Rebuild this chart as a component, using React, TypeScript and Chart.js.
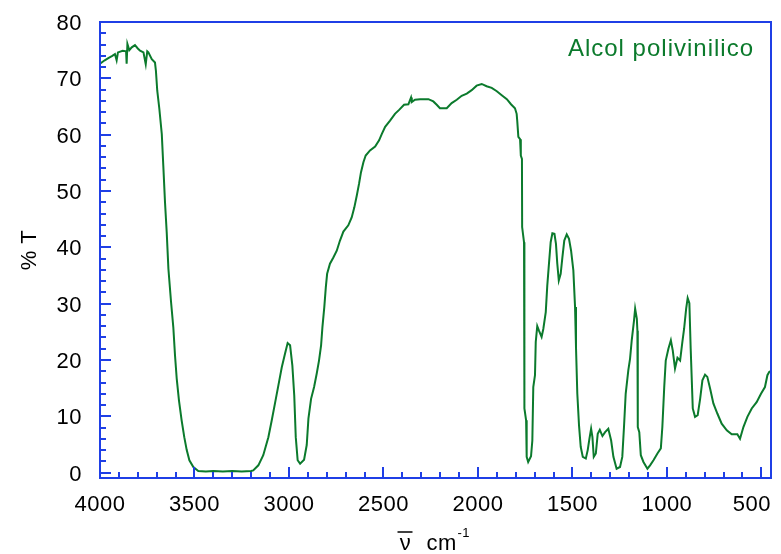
import { useEffect, useRef } from "react";
import { Chart, registerables } from "chart.js";

Chart.register(...registerables);

// Wavenumber (cm-1) and transmittance (%T)
const wavenumbers = [
  4000, 3975, 3956, 3935, 3921, 3912, 3905, 3880, 3862, 3859, 3855, 3845, 3832, 3815, 3800, 3788, 3770, 3758, 3750, 3744,
  3726, 3709, 3704, 3697, 3686, 3673, 3665, 3656, 3647, 3638, 3624, 3612, 3603, 3594, 3582, 3568, 3554, 3541, 3527, 3506,
  3480, 3440, 3400, 3350, 3300, 3250, 3200, 3189, 3162, 3136, 3109, 3091, 3074, 3056, 3038, 3021, 3007, 2994, 2982, 2972,
  2964, 2954, 2941, 2920, 2906, 2897, 2883, 2867, 2853, 2841, 2830, 2823, 2813, 2805, 2798, 2783, 2765, 2747, 2730, 2712,
  2686, 2668, 2654, 2641, 2629, 2619, 2606, 2594, 2571, 2544, 2523, 2509, 2491, 2465, 2439, 2417, 2391, 2368, 2354, 2350,
  2333, 2306, 2262, 2236, 2218, 2201, 2165, 2139, 2112, 2086, 2059, 2033, 2007, 1980, 1954, 1927, 1900, 1874, 1847, 1825,
  1804, 1795, 1792, 1786, 1777, 1773, 1767, 1766, 1756, 1754, 1745, 1742, 1734, 1719, 1712, 1707, 1698, 1694, 1686, 1677,
  1663, 1654, 1641, 1633, 1624, 1615, 1606, 1595, 1587, 1580, 1572, 1562, 1553, 1543, 1530, 1518, 1507, 1495, 1486, 1481,
  1474, 1465, 1456, 1445, 1429, 1419, 1410, 1401, 1394, 1387, 1376, 1366, 1355, 1341, 1327, 1310, 1295, 1283, 1266, 1248,
  1236, 1227, 1218, 1204, 1195, 1186, 1174, 1168, 1159, 1156, 1154, 1146, 1138, 1124, 1103, 1089, 1071, 1050, 1032, 1024,
  1014, 1006, 992, 979, 969, 957, 944, 930, 918, 909, 898, 890, 881, 874, 863, 851, 837, 824, 812, 798,
  786, 771, 754, 733, 710, 683, 657, 627, 613, 595, 574, 551, 525, 502, 481, 468, 458, 449,
];

const transmittance = [
  72.6, 73.2, 73.6, 74.0, 74.3, 73.2, 74.6, 74.9, 74.8, 72.6, 76.1, 75.0, 75.5, 75.9, 75.3, 74.9, 74.6, 72.5, 74.8, 74.6,
  73.4, 72.8, 71.3, 67.8, 64.6, 60.1, 54.5, 48.0, 42.7, 36.2, 30.3, 25.8, 20.8, 16.7, 12.8, 9.3, 6.3, 4.0, 2.2, 1.0,
  0.3, 0.2, 0.3, 0.2, 0.3, 0.2, 0.3, 0.4, 1.3, 3.1, 6.3, 9.3, 12.3, 15.5, 18.7, 21.1, 23.0, 22.6, 19.0, 13.7,
  6.3, 2.2, 1.6, 2.3, 4.9, 9.6, 13.1, 15.2, 17.6, 19.9, 22.6, 25.8, 29.4, 32.9, 35.3, 37.1, 38.2, 39.4, 41.2, 42.8,
  43.9, 45.3, 47.1, 49.2, 51.3, 53.3, 55.1, 56.3, 57.2, 57.9, 59.0, 60.1, 61.4, 62.5, 63.7, 64.4, 65.3, 65.4, 66.6, 65.8,
  66.2, 66.3, 66.3, 65.9, 65.3, 64.7, 64.7, 65.6, 66.2, 66.9, 67.3, 67.9, 68.7, 69.0, 68.6, 68.3, 67.7, 67.0, 66.3, 65.4,
  64.7, 63.7, 62.5, 59.6, 59.2, 56.3, 55.7, 43.6, 40.9, 11.4, 9.3, 2.8, 1.9, 2.9, 5.7, 15.2, 17.3, 23.2, 26.0, 25.2,
  24.1, 25.5, 28.5, 33.2, 37.1, 40.9, 42.5, 42.4, 40.6, 37.1, 34.1, 35.3, 38.2, 41.2, 42.3, 41.5, 39.4, 35.9, 29.4, 22.3,
  14.0, 8.4, 4.6, 2.8, 2.5, 4.0, 6.0, 7.8, 6.3, 2.8, 3.4, 6.9, 7.6, 6.5, 7.2, 7.8, 5.7, 2.8, 0.7, 1.0,
  2.8, 8.1, 14.0, 18.2, 20.2, 23.5, 27.0, 29.1, 27.3, 25.2, 8.1, 7.2, 3.1, 1.9, 0.7, 1.3, 2.2, 3.4, 4.3, 8.1,
  15.2, 19.9, 22.0, 23.5, 21.7, 18.5, 20.4, 19.9, 23.2, 25.5, 29.1, 31.0, 30.1, 22.0, 11.4, 9.9, 10.2, 13.1, 16.4, 17.4,
  17.0, 14.9, 12.3, 10.5, 8.7, 7.5, 6.8, 6.8, 6.0, 8.1, 9.9, 11.4, 12.5, 14.0, 15.2, 17.3, 17.9, 18.0,
];

const xTickLabels = [4000, 3500, 3000, 2500, 2000, 1500, 1000, 500];
const yTickLabels = [0, 10, 20, 30, 40, 50, 60, 70, 80];
const chartTitle = "Alcol polivinilico";
const yAxisTitle = "% T";
const xAxisSymbol = "ν";
const xAxisUnit = "cm";
const xAxisExponent = "-1";

const BLUE = "#1f3fe6";
const GREEN = "#0b7a2c";
const FONT = '"Liberation Sans", Arial, sans-serif';

const decorPlugin = {
  id: "decor",
  afterDatasetsDraw(chart: any) {
    const { ctx, chartArea: a, scales } = chart;
    const x = scales.x;
    const y = scales.y;
    ctx.save();
    ctx.strokeStyle = BLUE;
    ctx.lineWidth = 2;
    ctx.beginPath();
    for (let v = 4000; v >= 500; v -= 100) {
      const px = Math.round(x.getPixelForValue(v));
      const len = v % 500 === 0 ? 11 : 6;
      ctx.moveTo(px, a.bottom);
      ctx.lineTo(px, a.bottom - len);
    }
    for (let v = 0; v <= 80; v += 2) {
      const py = Math.round(y.getPixelForValue(v));
      const len = v % 10 === 0 ? 11 : 6;
      ctx.moveTo(a.left, py);
      ctx.lineTo(a.left + len, py);
    }
    ctx.stroke();
    ctx.strokeRect(a.left, a.top, a.right - a.left, a.bottom - a.top);
    ctx.restore();
  },
  afterDraw(chart: any) {
    const { ctx, chartArea: a, scales } = chart;
    const x = scales.x;
    const y = scales.y;
    ctx.save();
    ctx.fillStyle = "#000";
    ctx.font = `22px ${FONT}`;
    (ctx as any).letterSpacing = "0.5px";
    ctx.textBaseline = "alphabetic";
    for (const v of xTickLabels) {
      const s = String(v);
      const w = ctx.measureText(s).width;
      let cx = x.getPixelForValue(v);
      if (cx + w / 2 > a.right) cx = a.right - w / 2;
      ctx.textAlign = "center";
      ctx.fillText(s, cx, a.bottom + 33);
    }
    ctx.textAlign = "right";
    for (const v of yTickLabels) {
      ctx.fillText(String(v), a.left - 18, y.getPixelForValue(v) + 8);
    }
    // title
    ctx.fillStyle = GREEN;
    ctx.font = `24px ${FONT}`;
    (ctx as any).letterSpacing = "1px";
    ctx.textAlign = "right";
    ctx.fillText(chartTitle, a.right - 17, a.top + 34);
    // y axis title
    ctx.fillStyle = "#000";
    ctx.font = `22px ${FONT}`;
    (ctx as any).letterSpacing = "0.5px";
    ctx.save();
    ctx.translate(36, (a.top + a.bottom) / 2);
    ctx.rotate(-Math.PI / 2);
    ctx.textAlign = "center";
    ctx.fillText(yAxisTitle, 0, 0);
    ctx.restore();
    // x axis title
    const cx = (a.left + a.right) / 2;
    ctx.textAlign = "center";
    ctx.fillText(xAxisSymbol, cx - 30, 550);
    ctx.strokeStyle = "#000";
    ctx.lineWidth = 1.5;
    ctx.beginPath();
    ctx.moveTo(cx - 38, 532);
    ctx.lineTo(cx - 23, 532);
    ctx.stroke();
    ctx.textAlign = "left";
    ctx.fillText(xAxisUnit, cx - 9, 550);
    ctx.font = `13px ${FONT}`;
    ctx.fillText(xAxisExponent, cx + 22, 537);
    ctx.restore();
  },
};

export default function App() {
  const canvasRef = useRef<HTMLCanvasElement | null>(null);

  useEffect(() => {
    const canvas = canvasRef.current;
    if (!canvas) return;
    const chart = new Chart(canvas, {
      type: "line",
      data: {
        datasets: [
          {
            data: wavenumbers.map((w, i) => ({ x: w, y: transmittance[i] })),
            borderColor: GREEN,
            borderWidth: 2,
            pointRadius: 0,
            tension: 0,
            fill: false,
          },
        ],
      },
      options: {
        animation: false,
        responsive: false,
        layout: { padding: { left: 100, right: 10, top: 22, bottom: 76 } },
        plugins: { legend: { display: false }, tooltip: { enabled: false } },
        scales: {
          x: { type: "linear", reverse: true, min: 449, max: 4000, display: false },
          y: { type: "linear", min: -0.95, max: 80, display: false },
        },
      },
      plugins: [decorPlugin],
    });
    return () => chart.destroy();
  }, []);

  return (
    <div style={{ position: "absolute", left: 0, top: 0, width: 781, height: 554, background: "#fff" }}>
      <canvas ref={canvasRef} width={781} height={554} style={{ display: "block" }} />
    </div>
  );
}
